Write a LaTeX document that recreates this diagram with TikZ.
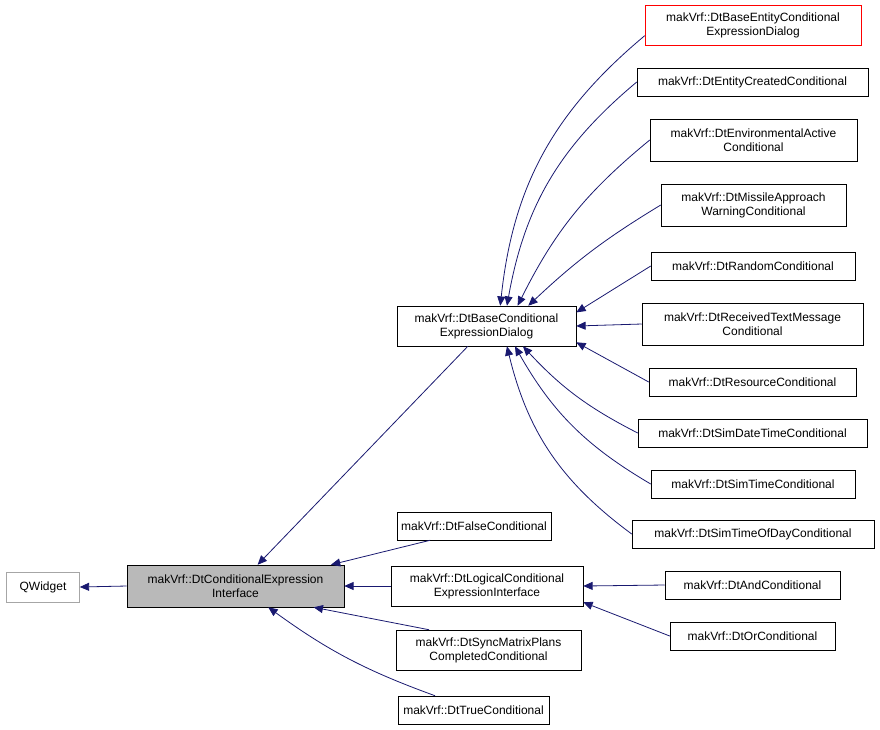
\documentclass[tikz,border=0pt]{standalone}
\usepackage{fontspec}
\setmainfont{Liberation Sans}
\usetikzlibrary{arrows.meta}
\definecolor{navy}{HTML}{191970}
\definecolor{edgered}{HTML}{FF0000}
\begin{document}
\begin{tikzpicture}[x=0.75pt, y=-0.75pt,
  cls/.style={rectangle, draw, fill=white, inner sep=0pt, align=center, font=\fontsize{9}{10.5}\selectfont},
  redcls/.style={cls, draw=edgered, fill=white, text=black},
  inh/.style={{Triangle[length=7pt,width=6pt,fill=navy]}-, draw=navy, line width=0.6pt},
  ]
  \useasboundingbox (0,0) rectangle (880,729);
  % bases
  \node[cls, draw=gray!70, minimum width=73*0.75pt, minimum height=30*0.75pt] (qw) at (43,587) {QWidget};
  \node[cls, fill=gray!55, minimum width=217*0.75pt, minimum height=42*0.75pt] (cei) at (235.5,586) {makVrf::DtConditionalExpression\\Interface};
  \node[cls, minimum width=179*0.75pt, minimum height=40*0.75pt] (bced) at (486.5,326) {makVrf::DtBaseConditional\\ExpressionDialog};
  \node[cls, minimum width=154*0.75pt, minimum height=28*0.75pt] (false) at (474,526) {makVrf::DtFalseConditional};
  \node[cls, minimum width=192*0.75pt, minimum height=40*0.75pt] (lcei) at (487,586) {makVrf::DtLogicalConditional\\ExpressionInterface};
  \node[cls, minimum width=185*0.75pt, minimum height=40*0.75pt] (sync) at (488.5,650) {makVrf::DtSyncMatrixPlans\\CompletedConditional};
  \node[cls, minimum width=151*0.75pt, minimum height=28*0.75pt] (true) at (473.5,710) {makVrf::DtTrueConditional};
  % right column
  \node[redcls, minimum width=216*0.75pt, minimum height=40*0.75pt] (bece) at (753,25) {makVrf::DtBaseEntityConditional\\ExpressionDialog};
  \node[cls, minimum width=231*0.75pt, minimum height=28*0.75pt] (ecc) at (752.5,82) {makVrf::DtEntityCreatedConditional};
  \node[cls, minimum width=207*0.75pt, minimum height=42*0.75pt] (eac) at (753.5,140) {makVrf::DtEnvironmentalActive\\Conditional};
  \node[cls, minimum width=185*0.75pt, minimum height=42*0.75pt] (mawc) at (753.5,205) {makVrf::DtMissileApproach\\WarningConditional};
  \node[cls, minimum width=204*0.75pt, minimum height=28*0.75pt] (rc) at (753,266) {makVrf::DtRandomConditional};
  \node[cls, minimum width=221*0.75pt, minimum height=42*0.75pt] (rtmc) at (752.5,324) {makVrf::DtReceivedTextMessage\\Conditional};
  \node[cls, minimum width=207*0.75pt, minimum height=28*0.75pt] (resc) at (752.5,382) {makVrf::DtResourceConditional};
  \node[cls, minimum width=229*0.75pt, minimum height=28*0.75pt] (sdtc) at (752.5,433) {makVrf::DtSimDateTimeConditional};
  \node[cls, minimum width=204*0.75pt, minimum height=28*0.75pt] (stc) at (753,484) {makVrf::DtSimTimeConditional};
  \node[cls, minimum width=242*0.75pt, minimum height=28*0.75pt] (stodc) at (753,534) {makVrf::DtSimTimeOfDayConditional};
  \node[cls, minimum width=175*0.75pt, minimum height=28*0.75pt] (andc) at (752.5,585) {makVrf::DtAndConditional};
  \node[cls, minimum width=165*0.75pt, minimum height=28*0.75pt] (orc) at (752.5,636) {makVrf::DtOrConditional};

  \draw[inh] (qw.east) -- (cei.west);
  \draw[inh] ([xshift=-65pt]cei.north east) -- ([xshift=-14pt]bced.south);
  \draw[inh] ([xshift=-10pt]cei.north east) -- ([xshift=25pt]false.south west);
  \draw[inh] (cei.east) -- (lcei.west);
  \draw[inh] ([xshift=-23pt]cei.south east) -- ([xshift=25pt]sync.north west);
  \draw[inh] ([xshift=-57pt]cei.south east) to[bend right=8] ([xshift=28pt]true.north west);
  \draw[inh] (lcei.east) -- (andc.west);
  \draw[inh] ([yshift=3pt]lcei.south east) -- (orc.west);

  \draw[inh] ([xshift=-57pt]bced.north east) to[bend left=22] ([yshift=-8pt]bece.west);
  \draw[inh] ([xshift=-52pt]bced.north east) to[bend left=20] (ecc.west);
  \draw[inh] ([xshift=-44pt]bced.north east) to[bend left=12] (eac.west);
  \draw[inh] ([xshift=-36pt]bced.north east) to[bend left=6] (mawc.west);
  \draw[inh] ([yshift=-5pt]bced.north east) -- (rc.west);
  \draw[inh] (bced.east) -- (rtmc.west);
  \draw[inh] ([yshift=3pt]bced.south east) -- (resc.west);
  \draw[inh] ([xshift=-40pt]bced.south east) to[bend right=10] (sdtc.west);
  \draw[inh] ([xshift=-46pt]bced.south east) to[bend right=15] (stc.west);
  \draw[inh] ([xshift=-52pt]bced.south east) to[bend right=20] (stodc.west);
\end{tikzpicture}
\end{document}
